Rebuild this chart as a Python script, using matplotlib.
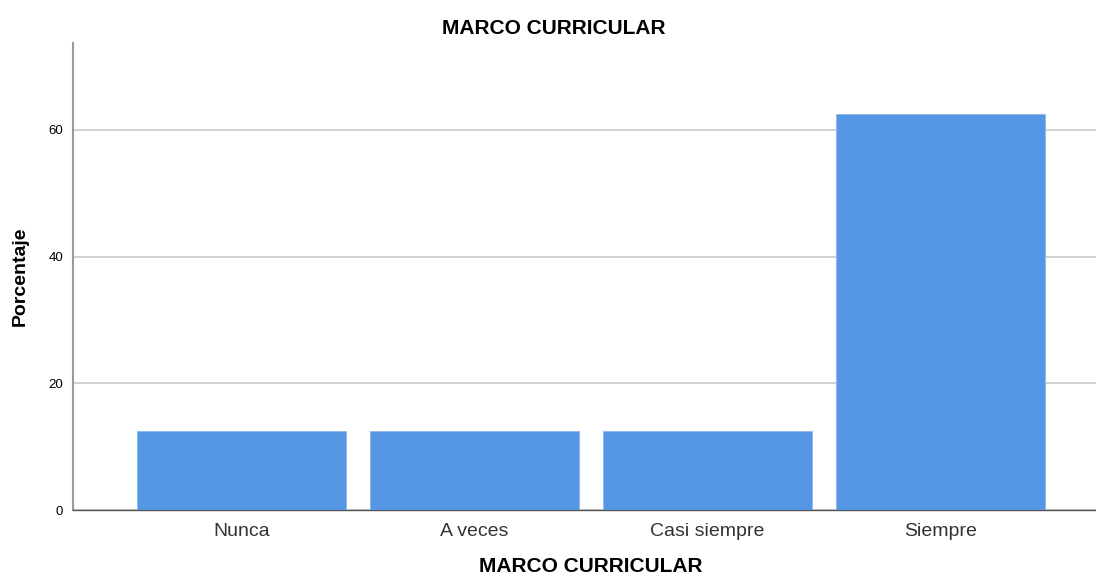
import matplotlib
matplotlib.use('Agg')
import matplotlib.pyplot as plt
import numpy as np

plt.rcParams['font.family'] = ['Liberation Sans', 'DejaVu Sans']

categorias = ['Nunca', 'A veces', 'Casi siempre', 'Siempre']
porcentajes = [12.5, 12.5, 12.5, 62.5]
yticks = [0, 20, 40, 60]

fig = plt.figure(figsize=(10.96, 5.75), dpi=100)
ax = fig.add_axes([0.0666, 0.113, 0.933, 0.812])

x = np.arange(len(categorias))
ax.bar(x, porcentajes, width=0.897, color='#5596E5', edgecolor='#8DB9EE',
       linewidth=0.6, zorder=3)

ax.set_xlim(-0.723, 3.667)
ax.set_ylim(0, 73.7)
ax.set_yticks(yticks)
ax.yaxis.grid(True, color='#c8c8c8', linewidth=1.2, zorder=0)
ax.set_xticks(x)
ax.set_xticklabels(categorias, fontsize=14, color='#333333')
ax.tick_params(axis='y', labelsize=9.5, length=0, pad=7)
ax.tick_params(axis='x', length=0, pad=9)

for s in ['top', 'right']:
    ax.spines[s].set_visible(False)
ax.spines['left'].set_color('#999999')
ax.spines['left'].set_linewidth(1.5)
ax.spines['bottom'].set_color('#555555')
ax.spines['bottom'].set_linewidth(1.0)

# títulos centrados como en el original
fig.text(0.5055, 0.951, 'MARCO CURRICULAR', fontsize=15, fontweight='bold',
         ha='center', va='center')
fig.text(0.539, 0.014, 'MARCO CURRICULAR', fontsize=15, fontweight='bold',
         ha='center', va='center')
ax.set_ylabel('Porcentaje', fontsize=14, fontweight='bold', labelpad=14)

plt.savefig('out.png', dpi=100)
plt.close()
